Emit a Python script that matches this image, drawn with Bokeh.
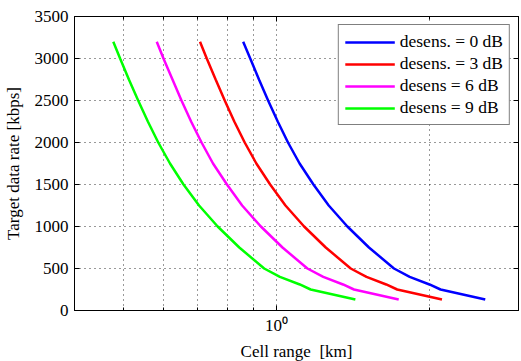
from bokeh.plotting import figure
from bokeh.models import FixedTicker, LogAxis, LinearAxis, CustomJSTickFormatter, Legend, LegendItem
from bokeh.embed import file_html
from bokeh.resources import INLINE

# Target data rate [kbps]
rate = [3200, 3000, 2750, 2500, 2250, 2000, 1750, 1500, 1250, 1000, 750, 500, 400, 310, 250, 130]
# Cell range [km] for each desensitisation level
range_0db = [0.860, 0.888, 0.924, 0.963, 1.006, 1.054, 1.111, 1.183, 1.268, 1.380, 1.522, 1.705, 1.831, 2.003, 2.106, 2.580]
range_3db = [0.707, 0.729, 0.759, 0.791, 0.826, 0.866, 0.913, 0.972, 1.042, 1.134, 1.251, 1.401, 1.505, 1.646, 1.730, 2.120]
range_6db = [0.581, 0.599, 0.624, 0.650, 0.679, 0.712, 0.750, 0.799, 0.856, 0.932, 1.028, 1.151, 1.237, 1.353, 1.422, 1.742]
range_9db = [0.477, 0.492, 0.512, 0.534, 0.558, 0.585, 0.617, 0.656, 0.704, 0.766, 0.845, 0.946, 1.016, 1.112, 1.168, 1.431]
labels = ["desens. = 0 dB", "desens. = 3 dB", "desens = 6 dB", "desens = 9 dB"]
colors = ["#0000ff", "#ff0000", "#ff00ff", "#00ff00"]

y_ticks = [0, 500, 1000, 1500, 2000, 2500, 3000, 3500]
x_major = [1]
x_minor = [0.5, 0.6, 0.7, 0.8, 0.9, 2, 3]

FONT = "Liberation Serif"

p = figure(frame_width=444, frame_height=294, x_axis_type="log", x_range=(0.4, 3), y_range=(0, 3500),
           output_backend="svg", toolbar_location=None,
           min_border_left=68, min_border_right=1, min_border_top=16, min_border_bottom=51,
           outline_line_color="black", outline_line_width=1)
p.background_fill_color = "white"
p.border_fill_color = "white"

xt = FixedTicker(ticks=x_major, minor_ticks=x_minor)
yt = FixedTicker(ticks=y_ticks)

xa = p.xaxis[0]
xa.ticker = xt
xa.formatter = CustomJSTickFormatter(code="return tick == 1 ? '10\u2070' : '';")
ya = p.yaxis[0]
ya.ticker = yt

for ax in (xa, ya):
    ax.major_tick_in = 5
    ax.major_tick_out = 0
    ax.minor_tick_in = 3
    ax.minor_tick_out = 0
    ax.axis_line_color = "black"
    ax.major_tick_line_color = "black"
    ax.minor_tick_line_color = "black"
    ax.major_label_text_font = FONT
    ax.major_label_text_font_size = "17px"
    ax.major_label_text_color = "black"
    ax.axis_label_text_font = FONT
    ax.axis_label_text_font_size = "17px"
    ax.axis_label_text_font_style = "normal"
    ax.axis_label_text_color = "black"

xa.axis_label = "Cell range\u00a0 [km]"
ya.axis_label = "Target data rate [kbps]"
xa.major_label_standoff = 5
xa.axis_label_standoff = 4
ya.major_label_standoff = 6
ya.axis_label_standoff = 9

# mirrored axes (ticks only) on top and right
top = LogAxis(ticker=xt, major_tick_in=5, major_tick_out=0, minor_tick_in=3, minor_tick_out=0,
              major_label_text_font_size="0px", major_label_standoff=0, axis_line_color="black",
              major_tick_line_color="black", minor_tick_line_color="black")
top.formatter = CustomJSTickFormatter(code="return '';")
right = LinearAxis(ticker=yt, major_tick_in=5, major_tick_out=0, minor_tick_in=0, minor_tick_out=0,
                   major_label_text_font_size="0px", major_label_standoff=0, axis_line_color="black",
                   major_tick_line_color="black")
right.formatter = CustomJSTickFormatter(code="return '';")
p.add_layout(top, "above")
p.add_layout(right, "right")

for g in (p.xgrid[0], p.ygrid[0]):
    g.grid_line_color = "black"
    g.grid_line_alpha = 0.8
    g.grid_line_dash = "1 4"
    g.grid_line_width = 1
p.xgrid[0].ticker = xt
p.ygrid[0].ticker = yt
p.xgrid[0].minor_grid_line_color = "black"
p.xgrid[0].minor_grid_line_alpha = 0.8
p.xgrid[0].minor_grid_line_dash = "1 4"

series = [range_0db, range_3db, range_6db, range_9db]
items = []
for xs, lab, c in zip(series, labels, colors):
    r = p.line(xs, rate, line_color=c, line_width=2.5)
    items.append(LegendItem(label=lab, renderers=[r]))

legend = Legend(items=items, location="top_right", border_line_color="black", border_line_width=1,
                label_text_font=FONT, label_text_font_size="17.5px", label_text_color="black",
                glyph_width=50, label_standoff=5, padding=6, spacing=1, margin=8,
                background_fill_alpha=1.0)
p.add_layout(legend, "center")

open("out.html", "w").write(file_html(p, INLINE))
